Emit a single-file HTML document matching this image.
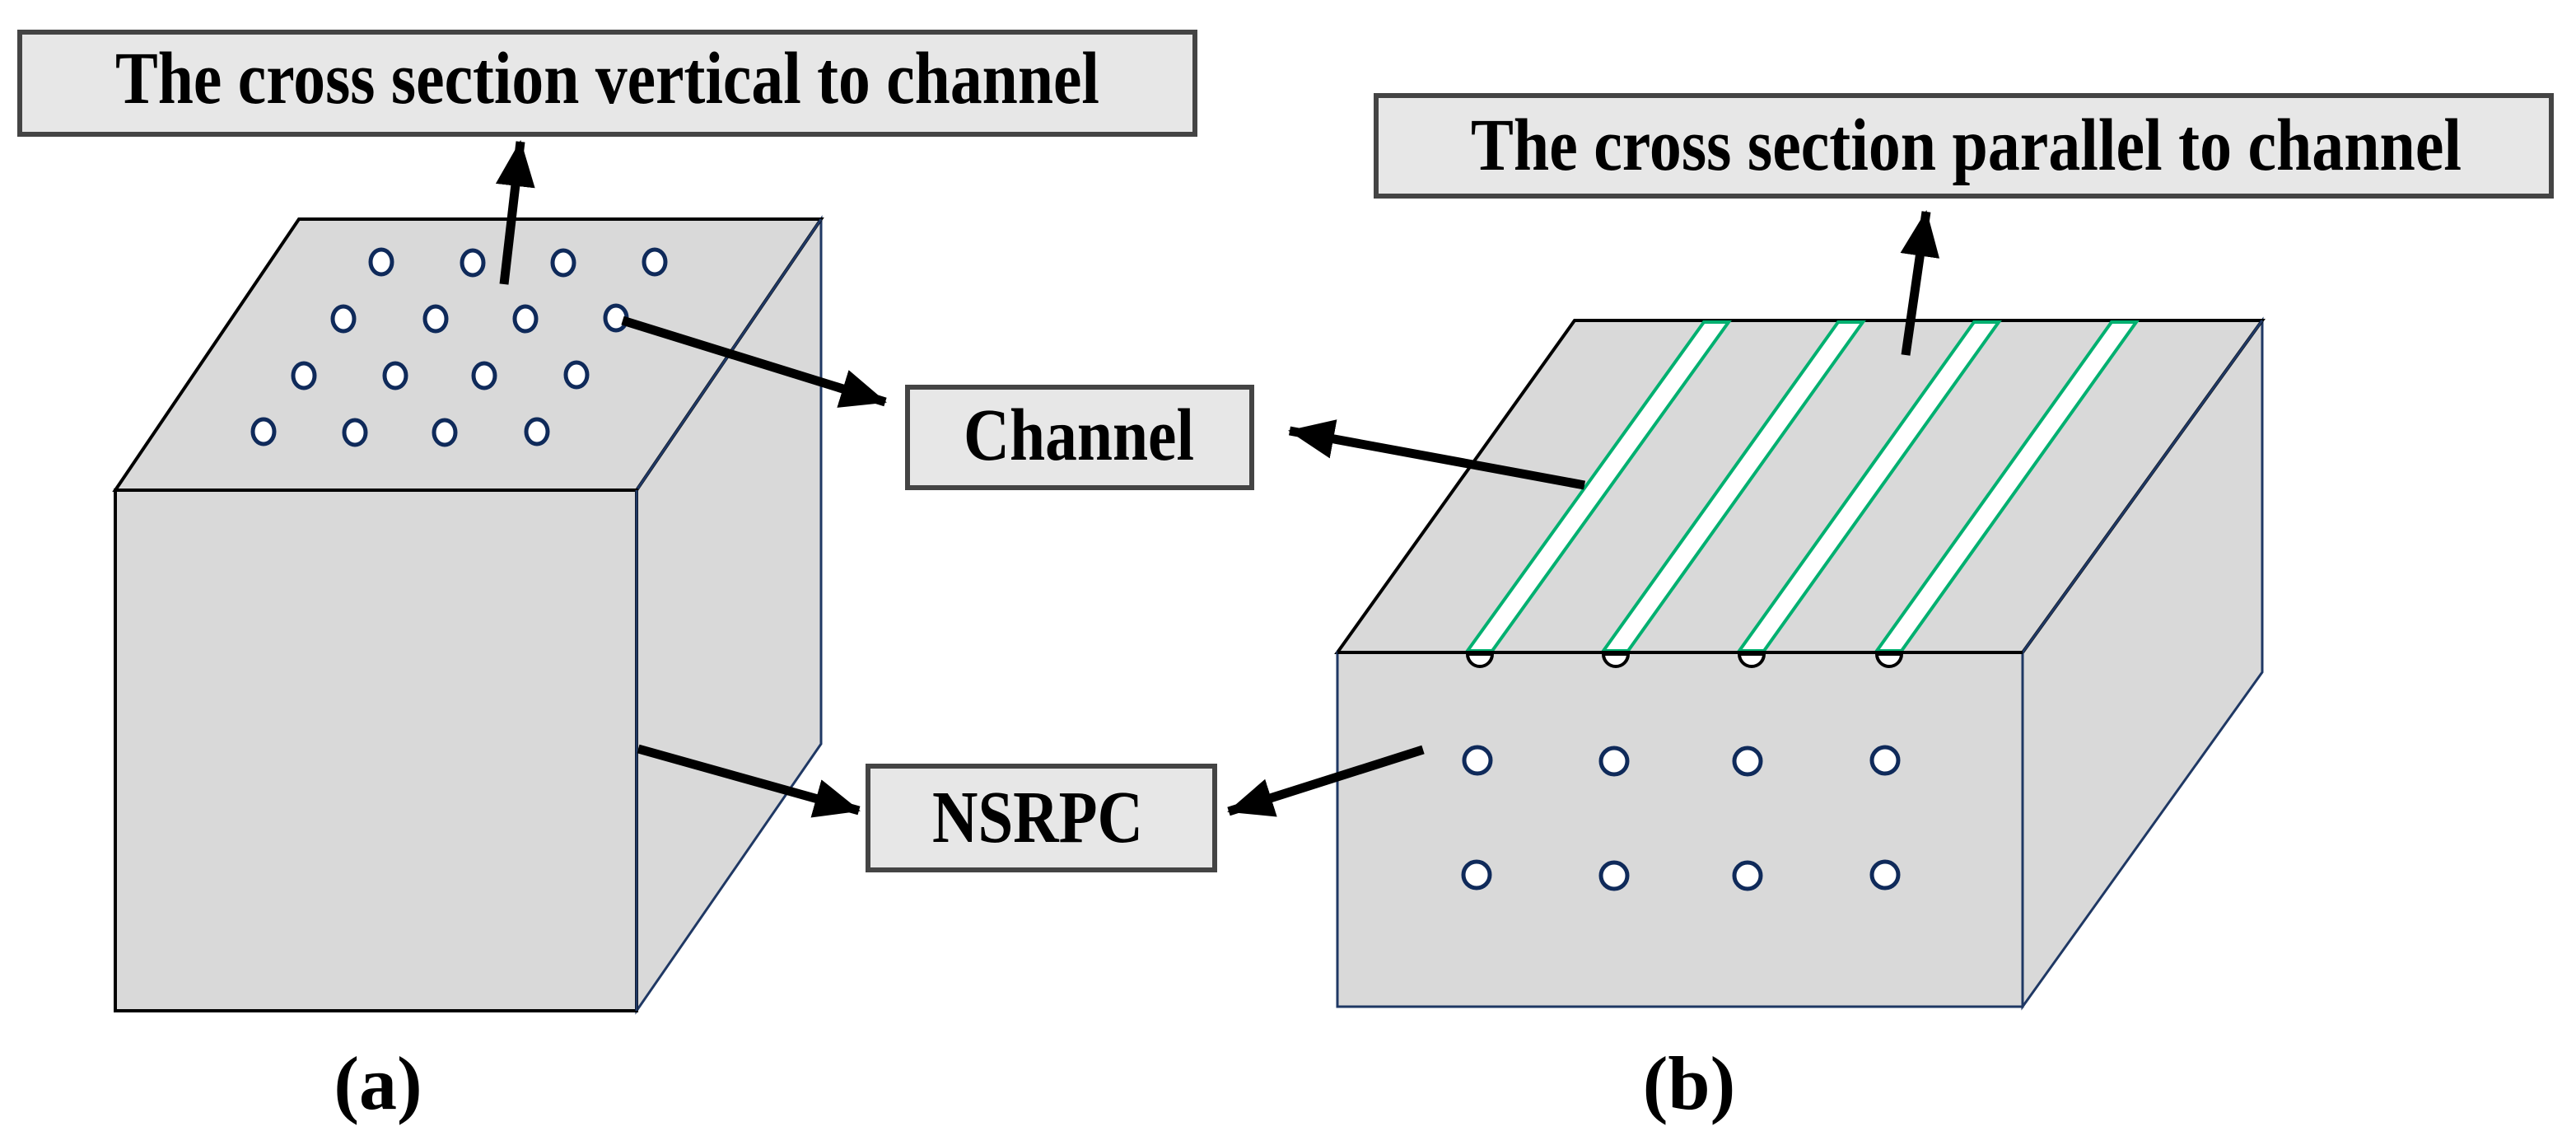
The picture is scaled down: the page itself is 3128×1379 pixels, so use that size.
<!DOCTYPE html>
<html><head><meta charset="utf-8"><style>html,body{margin:0;padding:0;background:#fff}svg{display:block}</style></head>
<body>
<svg width="3128" height="1379" viewBox="0 0 3128 1379" xmlns="http://www.w3.org/2000/svg" font-family="'Liberation Serif', serif" font-weight="bold">
<defs>
<marker id="ah" markerUnits="userSpaceOnUse" markerWidth="60" markerHeight="48" refX="54" refY="24" orient="auto">
<path d="M0,0 L56,24 L0,48 Z" fill="#000"/>
</marker>
</defs>
<!-- Label boxes -->
<rect x="24" y="39" width="1427" height="124" fill="#e7e7e7" stroke="#444" stroke-width="6"/>
<text x="140" y="125" font-size="90" textLength="1195" lengthAdjust="spacingAndGlyphs">The cross section vertical to channel</text>
<rect x="1671" y="116" width="1427" height="122" fill="#e7e7e7" stroke="#444" stroke-width="6"/>
<text x="1786" y="206" font-size="90" textLength="1203" lengthAdjust="spacingAndGlyphs">The cross section parallel to channel</text>
<rect x="1102" y="470" width="418" height="122" fill="#e7e7e7" stroke="#444" stroke-width="6"/>
<text x="1170" y="558" font-size="90" textLength="280" lengthAdjust="spacingAndGlyphs">Channel</text>
<rect x="1054" y="930" width="421" height="126" fill="#e7e7e7" stroke="#444" stroke-width="6"/>
<text x="1132" y="1022" font-size="90" textLength="256" lengthAdjust="spacingAndGlyphs">NSRPC</text>

<!-- Left cube -->
<polygon points="773,595 997,266 997,903 773,1227" fill="#d9d9d9" stroke="#1f3864" stroke-width="3"/>
<polygon points="140,595 363,266 997,266 773,595" fill="#d9d9d9" stroke="#000" stroke-width="4"/>
<line x1="997" y1="266" x2="773" y2="595" stroke="#1f3864" stroke-width="3"/>
<rect x="140" y="595" width="633" height="632" fill="#d9d9d9" stroke="#000" stroke-width="4"/>
<line x1="773" y1="595" x2="773" y2="1227" stroke="#1f3864" stroke-width="3"/>
<g fill="#fff" stroke="#0f2a5a" stroke-width="5">
<ellipse cx="463" cy="318" rx="13" ry="15"/><ellipse cx="574" cy="319" rx="13" ry="15"/><ellipse cx="684" cy="319" rx="13" ry="15"/><ellipse cx="795" cy="318" rx="13" ry="15"/>
<ellipse cx="417" cy="387" rx="13" ry="15"/><ellipse cx="529" cy="387" rx="13" ry="15"/><ellipse cx="638" cy="387" rx="13" ry="15"/><ellipse cx="748" cy="386" rx="13" ry="15"/>
<ellipse cx="369" cy="456" rx="13" ry="15"/><ellipse cx="480" cy="456" rx="13" ry="15"/><ellipse cx="588" cy="456" rx="13" ry="15"/><ellipse cx="700" cy="455" rx="13" ry="15"/>
<ellipse cx="320" cy="524" rx="13" ry="15"/><ellipse cx="431" cy="525" rx="13" ry="15"/><ellipse cx="540" cy="525" rx="13" ry="15"/><ellipse cx="652" cy="524" rx="13" ry="15"/>
</g>

<!-- Right cube -->
<polygon points="2456,792 2747,389 2747,816 2456,1222" fill="#d9d9d9" stroke="#1f3864" stroke-width="3"/>
<polygon points="1624,792 1912,389 2747,389 2456,792" fill="#d9d9d9" stroke="#000" stroke-width="4"/>
<line x1="2747" y1="389" x2="2456" y2="792" stroke="#1f3864" stroke-width="3"/>
<g fill="#fff" stroke="#00b070" stroke-width="4">
<polygon points="2069,391 2099,391 1812,790 1782,790"/>
<polygon points="2232,391 2262,391 1977,790 1947,790"/>
<polygon points="2397,391 2427,391 2142,790 2112,790"/>
<polygon points="2564,391 2594,391 2309,790 2279,790"/>
</g>
<rect x="1624" y="792" width="832" height="430" fill="#d9d9d9" stroke="#1f3864" stroke-width="3"/>
<line x1="1624" y1="792" x2="2456" y2="792" stroke="#000" stroke-width="4"/>
<g fill="#fff" stroke="#000" stroke-width="4">
<path d="M1782,794 A15,15 0 0 0 1812,794 Z"/>
<path d="M1947,794 A15,15 0 0 0 1977,794 Z"/>
<path d="M2112,794 A15,15 0 0 0 2142,794 Z"/>
<path d="M2279,794 A15,15 0 0 0 2309,794 Z"/>
</g>
<g fill="#fff" stroke="#0f2a5a" stroke-width="5">
<circle cx="1794" cy="923" r="16"/><circle cx="1960" cy="924" r="16"/><circle cx="2122" cy="924" r="16"/><circle cx="2289" cy="923" r="16"/>
<circle cx="1793" cy="1062" r="16"/><circle cx="1960" cy="1063" r="16"/><circle cx="2122" cy="1063" r="16"/><circle cx="2289" cy="1062" r="16"/>
</g>

<!-- Arrows -->
<g stroke="#000" stroke-width="11" fill="none" marker-end="url(#ah)">
<line x1="612" y1="345" x2="632" y2="172"/>
<line x1="756" y1="389" x2="1075" y2="488"/>
<line x1="775" y1="909" x2="1043" y2="984"/>
<line x1="1728" y1="910" x2="1492" y2="985"/>
<line x1="1924" y1="589" x2="1566" y2="523"/>
<line x1="2314" y1="431" x2="2339" y2="257"/>
</g>

<text x="459" y="1346" font-size="92" text-anchor="middle">(a)</text>
<text x="2051" y="1346" font-size="92" text-anchor="middle">(b)</text>
</svg>
</body></html>
